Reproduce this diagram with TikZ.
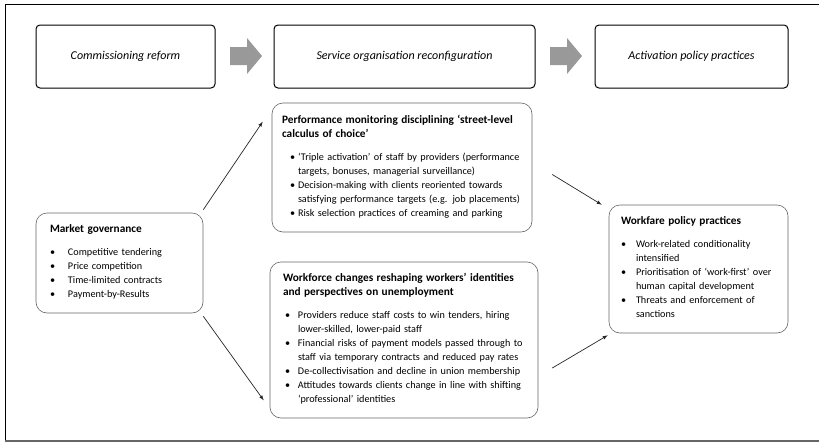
\documentclass[tikz,border=0pt]{standalone}
\usepackage{fontspec}
\setmainfont{Carlito}
\usetikzlibrary{positioning}

\newlength{\bind}
\newlength{\boff}
\newlength{\lastdp}
\newcommand{\lowfont}{\fontsize{10.2}{14}\selectfont\normalbaselineskip=14pt\relax}
\newcommand{\bitem}[1]{\par\noindent\makebox[\bind][l]{\hspace{\boff}\textbullet}%
  \parbox[t]{\dimexpr\hsize-\bind\relax}{\baselineskip=14pt\relax\raggedright\strut #1\strut\par
    \global\lastdp=\prevdepth}\par\prevdepth=\lastdp\relax}
\newcommand{\boxtitle}[1]{{\fontsize{11.3}{14}\selectfont\bfseries #1\par}\vspace{9pt}}

\begin{document}
\begin{tikzpicture}[x=1pt,y=-1pt,>=latex,
  topbox/.style={draw, line width=1pt, rounded corners=4pt, minimum height=63pt,
    font=\fontsize{12}{14}\selectfont\itshape},
  lowbox/.style={draw=black!60, line width=0.6pt, rounded corners=11pt, align=left,
    font=\lowfont},
  link/.style={->, line width=0.7pt, black!85},
  blockarrow/.style={fill=black!40}]
  \useasboundingbox (0,0) rectangle (819,442);
  % frame
  \draw[line width=0.8pt] (5,442) -- (5,4) -- (819,4);
  \draw[black!60, line width=2pt] (5,440.5) -- (819,440.5);

  % top row
  \node[topbox, minimum width=179pt] (commis) at (125.5,56.5) {Commissioning reform};
  \node[topbox, minimum width=261pt] (service) at (404.5,56.5) {Service organisation reconfiguration};
  \node[topbox, minimum width=193pt] (activ) at (691.5,56.5) {Activation policy practices};
  \foreach \ax in {230,550}
    \fill[blockarrow] (\ax,47) -- ++(17,0) -- ++(0,-9) -- ++(15,18) -- ++(-15,18) -- ++(0,-9) -- ++(-17,0) -- cycle;

  % boxes
  \node[lowbox, text width=139pt, inner xsep=14pt, minimum height=100pt] (market) at (119.5,263) {%
    \boxtitle{Market governance}
    \setlength{\bind}{18pt}\setlength{\boff}{0pt}%
    \bitem{Competitive tendering}
    \bitem{Price competition}
    \bitem{Time-limited contracts}
    \bitem{Payment-by-Results}};
  \node[lowbox, text width=240pt, inner xsep=10pt, minimum height=129pt] (perf) at (402,167.5) {%
    \boxtitle{Performance monitoring disciplining ‘street-level\newline calculus of choice’}
    \setlength{\bind}{16pt}\setlength{\boff}{8pt}%
    \bitem{‘Triple activation’ of staff by providers (performance\newline targets, bonuses, managerial surveillance)}
    \bitem{Decision-making with clients reoriented towards\newline satisfying performance targets (e.g. job placements)}
    \bitem{Risk selection practices of creaming and parking}};
  \node[lowbox, text width=242pt, inner xsep=13pt, minimum height=156pt] (wforce) at (404,340) {%
    \boxtitle{Workforce changes reshaping workers’ identities\newline and perspectives on unemployment}
    \setlength{\bind}{15pt}\setlength{\boff}{2pt}%
    \bitem{Providers reduce staff costs to win tenders, hiring\newline lower-skilled, lower-paid staff}
    \bitem{Financial risks of payment models passed through to\newline staff via temporary contracts and reduced pay rates}
    \bitem{De-collectivisation and decline in union membership}
    \bitem{Attitudes towards clients change in line with shifting\newline ‘professional’ identities}};
  \node[lowbox, text width=155pt, inner xsep=12pt, minimum height=128pt] (wfare) at (698.5,269) {%
    \boxtitle{Workfare policy practices}
    \setlength{\bind}{15pt}\setlength{\boff}{0pt}%
    \bitem{Work-related conditionality\newline intensified}
    \bitem{Prioritisation of ‘work-first’ over\newline human capital development}
    \bitem{Threats and enforcement of\newline sanctions}};

  % links
  \draw[link] ([shift={(0,-3)}]market.north east) -- ([shift={(-9,19)}]perf.north west);
  \draw[link] ([shift={(0,3)}]market.south east) -- ([shift={(-6,-18)}]wforce.south west);
  \draw[link] ([shift={(20,7)}]perf.east) -- ([shift={(-7,0)}]wfare.north west);
  \draw[link] ([shift={(14,28)}]wforce.east) -- ([shift={(-1,2)}]wfare.south west);
\end{tikzpicture}
\end{document}
